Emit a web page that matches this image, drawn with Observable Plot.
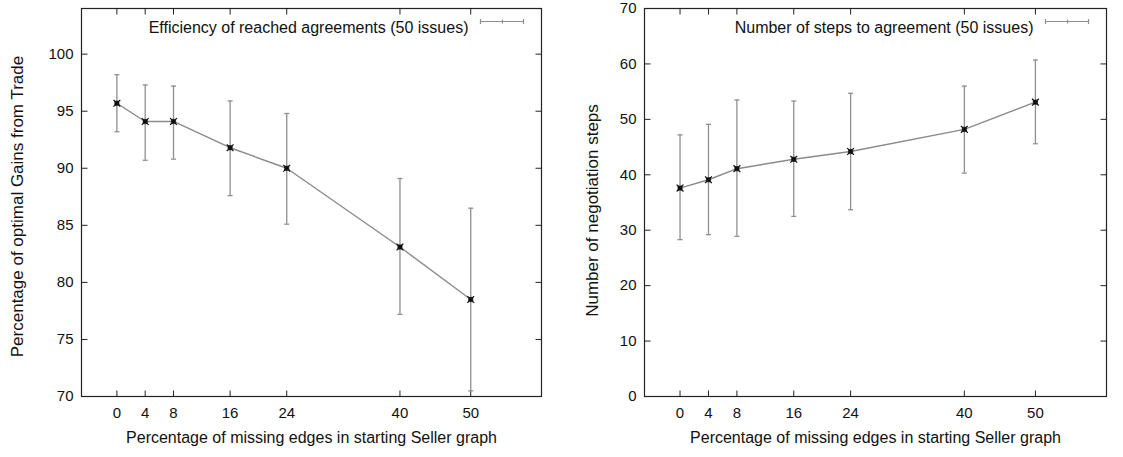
<!DOCTYPE html>
<html><head><meta charset="utf-8">
<script src="https://cdn.jsdelivr.net/npm/d3@7"></script>
<script src="https://cdn.jsdelivr.net/npm/@observablehq/plot@0.6"></script>
<style>
body{margin:0;background:#fff;}
#wrap{display:flex;width:1123px;height:457px;}
#wrap svg{font-family:"Liberation Sans",Arial,sans-serif;overflow:visible;}
</style></head><body><div id="wrap"></div>
<script>
// x categories: percentage of missing edges
const missingEdges = [0, 4, 8, 16, 24, 40, 50];
const xTickLabels = [0, 4, 8, 16, 24, 40, 50];

// Left panel: efficiency (% of optimal gains from trade)
const effMean = [95.7, 94.1, 94.1, 91.8, 90.0, 83.1, 78.5];
const effHigh = [98.2, 97.3, 97.2, 95.9, 94.8, 89.1, 86.5];
const effLow  = [93.2, 90.7, 90.8, 87.6, 85.1, 77.2, 70.5];
const effTicks = [70, 75, 80, 85, 90, 95, 100];

// Right panel: number of negotiation steps
const stepsMean = [37.6, 39.1, 41.1, 42.8, 44.2, 48.2, 53.1];
const stepsHigh = [47.2, 49.1, 53.5, 53.3, 54.7, 56.0, 60.7];
const stepsLow  = [28.3, 29.2, 28.9, 32.5, 33.7, 40.3, 45.6];
const stepsTicks = [0, 10, 20, 30, 40, 50, 60, 70];

const xLabel = "Percentage of missing edges in starting Seller graph";
const effLabel = "Percentage of optimal Gains from Trade";
const stepsLabel = "Number of negotiation steps";
const effLegend = "Efficiency of reached agreements (50 issues)";
const stepsLegend = "Number of steps to agreement (50 issues)";

// custom symbols
const capSym = {draw(ctx, size){const w = Math.sqrt(size/Math.PI); ctx.moveTo(-w,0); ctx.lineTo(w,0);}};
const tickL = {draw(ctx){ctx.moveTo(0,0); ctx.lineTo(6,0);}};
const tickR = {draw(ctx){ctx.moveTo(0,0); ctx.lineTo(-6,0);}};
const tickB = {draw(ctx){ctx.moveTo(0,0); ctx.lineTo(0,-6);}};
const tickT = {draw(ctx){ctx.moveTo(0,0); ctx.lineTo(0,6);}};
const legendSym = {draw(ctx){
  ctx.moveTo(-43,0); ctx.lineTo(0,0);
  ctx.moveTo(-43,-2.5); ctx.lineTo(-43,2.5);
  ctx.moveTo(0,-2.5); ctx.lineTo(0,2.5);
  ctx.moveTo(-21,-2); ctx.lineTo(-21,2);
}};

function panel({width, marginLeft, marginRight, yDomain, yTicks, mean, high, low, yLabel, legend, yTitleDx, yTitleDy}) {
  const data = missingEdges.map((x, i) => ({x, m: mean[i], hi: high[i], lo: low[i]}));
  const ink = "#111";
  return Plot.plot({
    width, height: 457,
    marginLeft, marginRight, marginTop: 8, marginBottom: 61,
    style: {fontSize: "15px", color: ink, background: "transparent"},
    x: {domain: [-5, 60]},
    y: {domain: yDomain},
    marks: [
      Plot.axisY({ticks: yTicks, tickSize: 0, tickPadding: 8, label: null, fontSize: 15}),
      Plot.axisX({ticks: xTickLabels, tickSize: 0, tickPadding: 11, label: null, fontSize: 15}),
      Plot.frame({stroke: "#222", strokeWidth: 1.2}),
      Plot.dot(yTicks, {y: d => d, frameAnchor: "left", symbol: tickL, stroke: "#222", fill: "none", strokeWidth: 1}),
      Plot.dot(yTicks, {y: d => d, frameAnchor: "right", symbol: tickR, stroke: "#222", fill: "none", strokeWidth: 1}),
      Plot.dot(xTickLabels, {x: d => d, frameAnchor: "bottom", symbol: tickB, stroke: "#222", fill: "none", strokeWidth: 1}),
      Plot.dot(xTickLabels, {x: d => d, frameAnchor: "top", symbol: tickT, stroke: "#222", fill: "none", strokeWidth: 1}),
      Plot.ruleX(data, {x: "x", y1: "lo", y2: "hi", stroke: "#8f8f8f", strokeWidth: 1.3}),
      Plot.dot(data, {x: "x", y: "hi", symbol: capSym, r: 2.5, stroke: "#8f8f8f", fill: "none", strokeWidth: 1.3}),
      Plot.dot(data, {x: "x", y: "lo", symbol: capSym, r: 2.5, stroke: "#8f8f8f", fill: "none", strokeWidth: 1.3}),
      Plot.line(data, {x: "x", y: "m", stroke: "#8a8a8a", strokeWidth: 1.4}),
      Plot.dot(data, {x: "x", y: "m", symbol: "square", r: 2.4, fill: "#111", stroke: "#111", strokeWidth: 0.6}),
      Plot.dot(data, {x: "x", y: "m", symbol: "times", r: 3.2, stroke: "#111", fill: "none", strokeWidth: 1.2}),
      Plot.text([legend], {frameAnchor: "top-right", dx: -73, dy: 13, textAnchor: "end", fontSize: 16, fill: ink}),
      Plot.dot([legend], {frameAnchor: "top-right", dx: -18, dy: 13, symbol: legendSym, stroke: "#8f8f8f", fill: "none", strokeWidth: 1.2}),
      Plot.text([xLabel], {frameAnchor: "bottom", dy: 46, fontSize: 16, fill: ink}),
      Plot.text([yLabel], {frameAnchor: "left", dx: yTitleDx, dy: yTitleDy, rotate: -90, textAnchor: "middle", fontSize: 17, fill: ink})
    ]
  });
}

const wrap = document.getElementById("wrap");
wrap.append(panel({width: 561, marginLeft: 81, marginRight: 20, yDomain: [70, 104], yTicks: effTicks,
  mean: effMean, high: effHigh, low: effLow, yLabel: effLabel, legend: effLegend, yTitleDx: -64, yTitleDy: 4}));
wrap.append(panel({width: 562, marginLeft: 83, marginRight: 17, yDomain: [0, 70], yTicks: stepsTicks,
  mean: stepsMean, high: stepsHigh, low: stepsLow, yLabel: stepsLabel, legend: stepsLegend, yTitleDx: -52, yTitleDy: 8}));
</script></body></html>
